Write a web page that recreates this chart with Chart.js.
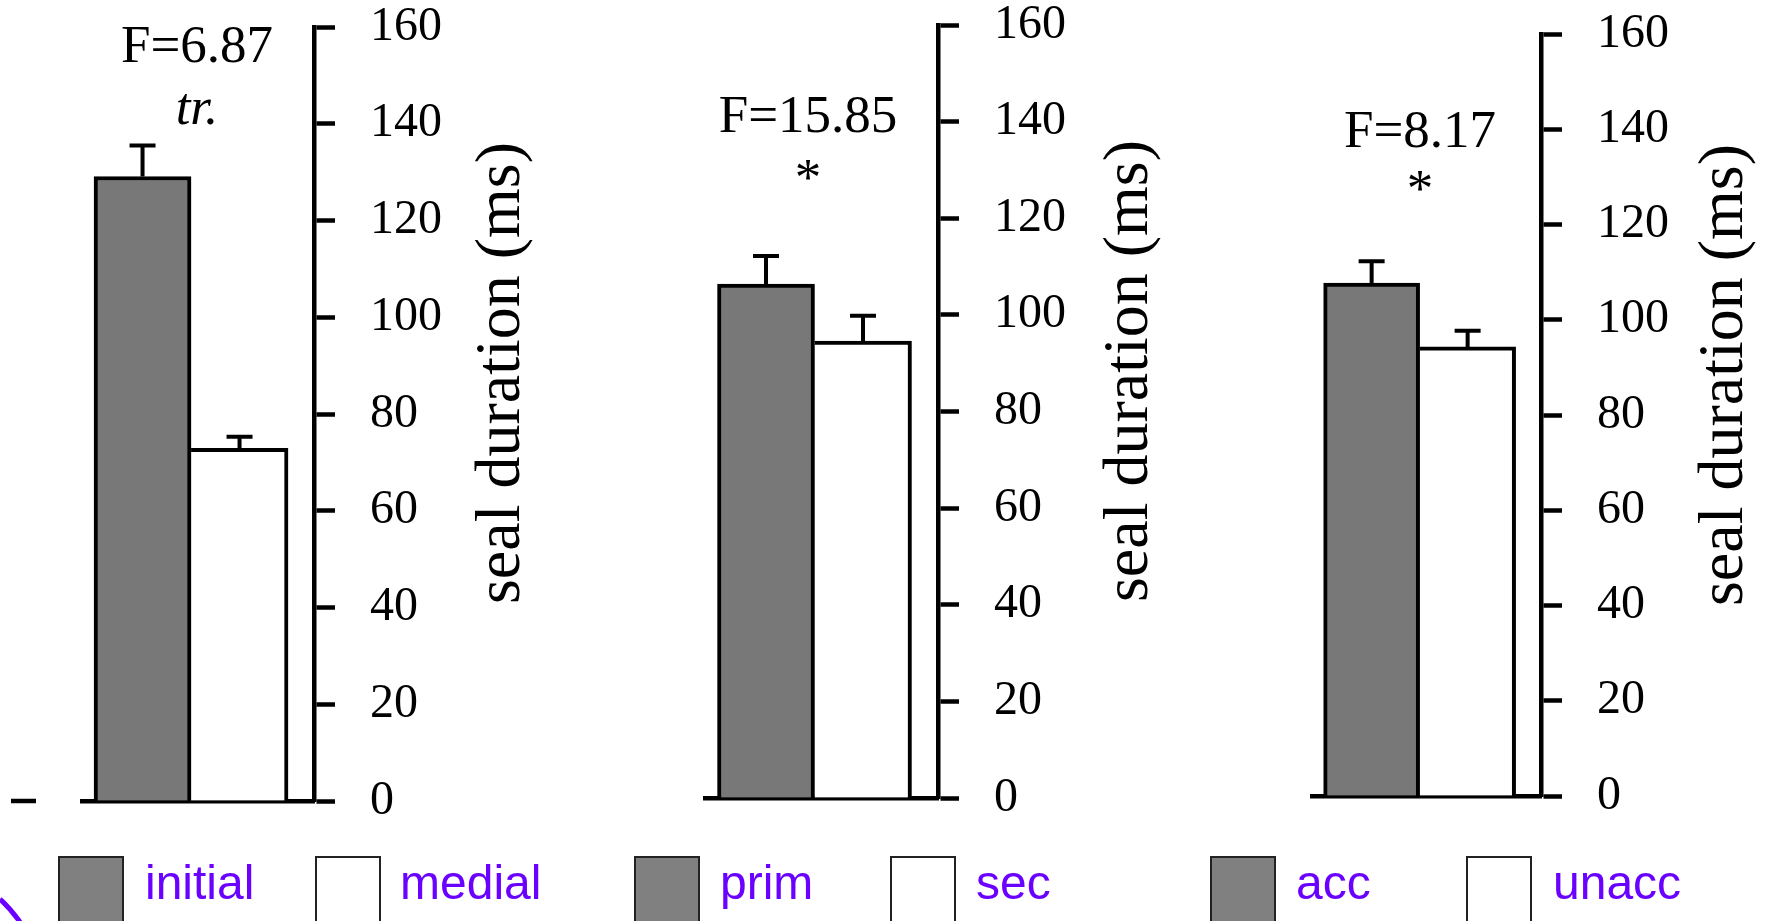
<!DOCTYPE html>
<html>
<head>
<meta charset="utf-8">
<script src="https://cdn.jsdelivr.net/npm/chart.js"></script>
<style>
  html, body { margin: 0; padding: 0; background: #fff; overflow: hidden; }
  #wrap { position: relative; width: 1767px; height: 921px; }
  #wrap canvas { position: absolute; left: 0; top: 0; }
</style>
</head>
<body>
<div id="wrap">
  <canvas id="c1" width="1767" height="921"></canvas>
  <canvas id="c2" width="1767" height="921"></canvas>
  <canvas id="c3" width="1767" height="921"></canvas>
</div>
<script>
// --- data ---
const yTickValues = [0, 20, 40, 60, 80, 100, 120, 140, 160];
const axisTitle = 'seal duration (ms)';

const groups1 = ['initial', 'medial'];
const means1 = [129.1, 72.9];
const errors1 = [6.4, 2.4];
const stats1 = ['F=6.87', 'tr.'];

const groups2 = ['prim', 'sec'];
const means2 = [106.4, 94.6];
const errors2 = [5.8, 5.2];
const stats2 = ['F=15.85', '*'];

const groups3 = ['acc', 'unacc'];
const means3 = [107.7, 94.3];
const errors3 = [4.6, 3.4];
const stats3 = ['F=8.17', '*'];

// --- look ---
const W = 1767, H = 921;
const SERIF = '"Liberation Serif", "Times New Roman", serif';
const SANS = '"Liberation Sans", Arial, sans-serif';
const barColors = ['#787878', '#ffffff'];
const legendBoxColors = ['#808080', '#ffffff'];
const legendTextColor = '#6a00ff';
const Y_SCALE_W = 200;

// page geometry of each panel
const panels = [
  { id: 'c1', groups: groups1, means: means1, errors: errors1, stats: stats1,
    left: 82, axisX: 314, top: 27, bottom: 801, barW: 97,
    statX: 197, statY: [62, 124], statItalic: [false, true],
    titleX: 519, titleY: 373,
    legendBoxX: [59, 316], legendTextX: [145, 400], extraDash: true },
  { id: 'c2', groups: groups2, means: means2, errors: errors2, stats: stats2,
    left: 705, axisX: 938, top: 25, bottom: 798, barW: 97,
    statX: 808, statY: [132, 195], statItalic: [false, false],
    titleX: 1147, titleY: 371,
    legendBoxX: [635, 891], legendTextX: [720, 976] },
  { id: 'c3', groups: groups3, means: means3, errors: errors3, stats: stats3,
    left: 1312, axisX: 1541, top: 34, bottom: 796, barW: 96,
    statX: 1420, statY: [147, 206], statItalic: [false, false],
    titleX: 1742, titleY: 375,
    legendBoxX: [1211, 1467], legendTextX: [1296, 1553] }
];

// error bars, annotations, rotated title and legend
const extrasPlugin = {
  id: 'extras',
  afterDatasetsDraw(chart) {
    const ctx = chart.ctx;
    const y = chart.scales.y;
    ctx.save();
    ctx.strokeStyle = '#000';
    ctx.lineWidth = 4;
    chart.data.datasets.forEach((ds, i) => {
      const el = chart.getDatasetMeta(i).data[0];
      const top = y.getPixelForValue(ds.data[0].y + ds.err);
      ctx.beginPath();
      ctx.moveTo(el.x, el.y);
      ctx.lineTo(el.x, top);
      ctx.moveTo(el.x - 13, top);
      ctx.lineTo(el.x + 13, top);
      ctx.stroke();
    });
    ctx.restore();
  },
  afterDraw(chart, args, opts) {
    const p = opts.panel;
    const ctx = chart.ctx;
    ctx.save();
    ctx.fillStyle = '#000';
    ctx.textAlign = 'center';
    ctx.textBaseline = 'alphabetic';
    p.stats.forEach((s, i) => {
      ctx.font = (p.statItalic[i] ? 'italic ' : '') + '53px ' + SERIF;
      ctx.fillText(s, p.statX, p.statY[i]);
    });

    // y title, reading bottom to top
    ctx.save();
    ctx.translate(p.titleX, p.titleY);
    ctx.rotate(-Math.PI / 2);
    ctx.font = '64px ' + SERIF;
    ctx.fillText(axisTitle, 0, 0);
    ctx.restore();

    // legend
    ctx.textAlign = 'left';
    ctx.font = '48px ' + SANS;
    chart.data.datasets.forEach((ds, i) => {
      ctx.fillStyle = legendBoxColors[i];
      ctx.fillRect(p.legendBoxX[i], 857, 64, 70);
      ctx.strokeStyle = '#222';
      ctx.lineWidth = 2;
      ctx.strokeRect(p.legendBoxX[i], 857, 64, 70);
      ctx.fillStyle = legendTextColor;
      ctx.fillText(ds.label, p.legendTextX[i], 899);
    });

    if (p.extraDash) {
      ctx.strokeStyle = '#000';
      ctx.lineWidth = 4.5;
      ctx.beginPath();
      ctx.moveTo(11, 801);
      ctx.lineTo(36, 801);
      ctx.stroke();
      // purple stroke cut off at the lower left corner
      ctx.strokeStyle = legendTextColor;
      ctx.lineWidth = 5;
      ctx.beginPath();
      ctx.moveTo(0, 899);
      ctx.quadraticCurveTo(10, 908, 20, 922);
      ctx.stroke();
    }
    ctx.restore();
  }
};

function makePanel(p) {
  const datasets = p.groups.map((g, i) => ({
    label: g,
    data: [{ x: 0, y: p.means[i] }],
    err: p.errors[i],
    backgroundColor: barColors[i],
    borderColor: '#000',
    borderWidth: i === 0 ? { top: 4, left: 4, right: 4, bottom: 0 }
                         : { top: 4, left: 0, right: 4, bottom: 0 },
    borderSkipped: false,
    barThickness: p.barW
  }));

  new Chart(document.getElementById(p.id), {
    type: 'bar',
    data: { datasets: datasets },
    options: {
      responsive: false,
      animation: false,
      devicePixelRatio: 1,
      events: [],
      layout: {
        padding: { left: p.left, top: p.top, right: W - p.axisX - Y_SCALE_W, bottom: H - p.bottom }
      },
      plugins: {
        legend: { display: false },
        tooltip: { enabled: false },
        extras: { panel: p }
      },
      scales: {
        x: {
          type: 'linear',
          min: -0.47,
          max: 0.53,
          offset: false,
          ticks: { display: false },
          grid: { display: false },
          border: { display: true, color: '#000', width: 4.5 },
          afterFit: s => { s.height = 0; s.paddingLeft = 0; s.paddingRight = 0; }
        },
        y: {
          position: 'right',
          min: 0,
          max: 160,
          afterBuildTicks: s => { s.ticks = yTickValues.map(v => ({ value: v })); },
          ticks: {
            color: '#000',
            padding: 35,
            font: { family: SERIF, size: 48 }
          },
          grid: {
            drawOnChartArea: false,
            drawTicks: true,
            tickLength: 21,
            tickWidth: 4.5,
            tickColor: '#000'
          },
          border: { display: true, color: '#000', width: 4.5 },
          afterFit: s => { s.width = Y_SCALE_W; s.paddingTop = 0; s.paddingBottom = 0; }
        }
      }
    },
    plugins: [extrasPlugin]
  });
}

panels.forEach(makePanel);
</script>
</body>
</html>
